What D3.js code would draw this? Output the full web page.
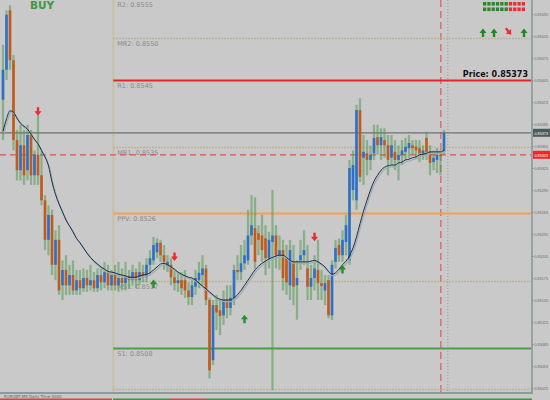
<!DOCTYPE html>
<html><head><meta charset="utf-8">
<script src="https://cdn.jsdelivr.net/npm/d3@7"></script>
<style>body{margin:0;background:#c9c9c9;}svg{display:block}</style>
</head><body>
<svg id="c" width="550" height="400"></svg>
<script>
const opens=[0.85418,0.85459,0.85540,0.85472,0.85363,0.85322,0.85356,0.85322,0.85370,0.85315,0.85343,0.85315,0.85281,0.85227,0.85261,0.85193,0.85227,0.85165,0.85186,0.85165,0.85179,0.85158,0.85172,0.85161,0.85175,0.85165,0.85172,0.85161,0.85179,0.85169,0.85183,0.85165,0.85179,0.85165,0.85175,0.85168,0.85178,0.85172,0.85183,0.85172,0.85183,0.85176,0.85193,0.85199,0.85210,0.85223,0.85206,0.85191,0.85193,0.85176,0.85168,0.85172,0.85172,0.85158,0.85149,0.85163,0.85172,0.85179,0.85188,0.85145,0.85063,0.85138,0.85131,0.85124,0.85145,0.85134,0.85148,0.85186,0.85183,0.85195,0.85199,0.85233,0.85243,0.85236,0.85233,0.85229,0.85202,0.85224,0.85233,0.85206,0.85213,0.85202,0.85165,0.85197,0.85165,0.85199,0.85206,0.85188,0.85163,0.85175,0.85186,0.85168,0.85158,0.85172,0.85124,0.85197,0.85220,0.85206,0.85224,0.85199,0.85295,0.85281,0.85404,0.85339,0.85345,0.85336,0.85345,0.85367,0.85356,0.85363,0.85356,0.85339,0.85347,0.85336,0.85343,0.85347,0.85352,0.85356,0.85354,0.85352,0.85345,0.85366,0.85347,0.85333,0.85336,0.85343,0.85347];
const highs=[0.85493,0.85540,0.85547,0.85479,0.85377,0.85384,0.85377,0.85384,0.85377,0.85349,0.85397,0.85349,0.85288,0.85274,0.85268,0.85240,0.85247,0.85199,0.85206,0.85193,0.85199,0.85186,0.85186,0.85188,0.85186,0.85193,0.85183,0.85188,0.85188,0.85197,0.85193,0.85186,0.85193,0.85197,0.85188,0.85197,0.85186,0.85193,0.85188,0.85197,0.85193,0.85202,0.85213,0.85231,0.85229,0.85227,0.85220,0.85206,0.85202,0.85186,0.85183,0.85183,0.85186,0.85169,0.85172,0.85186,0.85197,0.85206,0.85193,0.85148,0.85145,0.85152,0.85145,0.85158,0.85165,0.85165,0.85193,0.85206,0.85220,0.85227,0.85268,0.85288,0.85285,0.85247,0.85261,0.85247,0.85238,0.85295,0.85247,0.85233,0.85227,0.85220,0.85227,0.85220,0.85199,0.85227,0.85240,0.85220,0.85193,0.85206,0.85227,0.85186,0.85179,0.85179,0.85199,0.85227,0.85229,0.85240,0.85261,0.85336,0.85349,0.85411,0.85420,0.85370,0.85363,0.85356,0.85384,0.85384,0.85379,0.85379,0.85370,0.85370,0.85363,0.85356,0.85363,0.85366,0.85370,0.85363,0.85363,0.85363,0.85356,0.85374,0.85356,0.85349,0.85352,0.85349,0.85377];
const lows=[0.85363,0.85445,0.85459,0.85349,0.85308,0.85308,0.85302,0.85308,0.85302,0.85302,0.85302,0.85274,0.85213,0.85206,0.85179,0.85172,0.85152,0.85145,0.85152,0.85152,0.85152,0.85152,0.85152,0.85156,0.85156,0.85158,0.85156,0.85156,0.85158,0.85161,0.85158,0.85158,0.85158,0.85156,0.85158,0.85158,0.85161,0.85165,0.85161,0.85165,0.85169,0.85169,0.85179,0.85193,0.85202,0.85197,0.85186,0.85183,0.85165,0.85158,0.85156,0.85152,0.85148,0.85138,0.85138,0.85152,0.85161,0.85165,0.85138,0.85038,0.85056,0.85104,0.85097,0.85111,0.85120,0.85124,0.85138,0.85172,0.85172,0.85186,0.85193,0.85220,0.85188,0.85206,0.85197,0.85179,0.85188,0.85022,0.85188,0.85186,0.85158,0.85152,0.85145,0.85138,0.85118,0.85186,0.85193,0.85145,0.85145,0.85158,0.85145,0.85145,0.85138,0.85120,0.85118,0.85188,0.85197,0.85197,0.85206,0.85193,0.85281,0.85268,0.85306,0.85302,0.85315,0.85322,0.85336,0.85343,0.85336,0.85339,0.85315,0.85329,0.85322,0.85308,0.85329,0.85336,0.85339,0.85343,0.85339,0.85333,0.85336,0.85336,0.85315,0.85322,0.85318,0.85315,0.85343];
const closes=[0.85459,0.85534,0.85472,0.85363,0.85322,0.85356,0.85315,0.85370,0.85315,0.85343,0.85315,0.85281,0.85227,0.85261,0.85193,0.85227,0.85158,0.85186,0.85165,0.85179,0.85158,0.85172,0.85161,0.85175,0.85165,0.85172,0.85161,0.85179,0.85169,0.85183,0.85165,0.85179,0.85165,0.85175,0.85168,0.85178,0.85172,0.85183,0.85172,0.85183,0.85176,0.85193,0.85202,0.85220,0.85223,0.85206,0.85197,0.85197,0.85176,0.85168,0.85172,0.85161,0.85158,0.85149,0.85165,0.85175,0.85182,0.85188,0.85145,0.85049,0.85138,0.85128,0.85123,0.85145,0.85134,0.85148,0.85186,0.85183,0.85195,0.85206,0.85233,0.85247,0.85197,0.85227,0.85213,0.85202,0.85227,0.85233,0.85206,0.85213,0.85175,0.85169,0.85213,0.85163,0.85175,0.85206,0.85213,0.85163,0.85175,0.85188,0.85168,0.85164,0.85168,0.85124,0.85193,0.85216,0.85206,0.85227,0.85247,0.85325,0.85329,0.85404,0.85313,0.85347,0.85336,0.85343,0.85366,0.85356,0.85367,0.85356,0.85336,0.85356,0.85336,0.85343,0.85349,0.85354,0.85359,0.85352,0.85349,0.85345,0.85349,0.85347,0.85332,0.85339,0.85343,0.85341,0.85373];
const maValues=[0.85375,0.85392,0.85403,0.85401,0.85393,0.85386,0.85382,0.85378,0.85371,0.85364,0.85358,0.85349,0.85340,0.85328,0.85306,0.85289,0.85276,0.85265,0.85254,0.85246,0.85238,0.85229,0.85223,0.85216,0.85209,0.85203,0.85198,0.85194,0.85190,0.85187,0.85184,0.85183,0.85182,0.85180,0.85179,0.85178,0.85176,0.85176,0.85176,0.85178,0.85179,0.85180,0.85182,0.85186,0.85190,0.85194,0.85195,0.85193,0.85190,0.85187,0.85183,0.85180,0.85178,0.85176,0.85175,0.85172,0.85168,0.85164,0.85160,0.85156,0.85152,0.85148,0.85146,0.85145,0.85145,0.85145,0.85148,0.85152,0.85158,0.85165,0.85172,0.85179,0.85186,0.85191,0.85195,0.85198,0.85201,0.85203,0.85205,0.85206,0.85206,0.85203,0.85199,0.85197,0.85197,0.85197,0.85197,0.85197,0.85198,0.85199,0.85197,0.85194,0.85190,0.85184,0.85180,0.85182,0.85187,0.85193,0.85198,0.85205,0.85216,0.85231,0.85249,0.85266,0.85281,0.85295,0.85307,0.85315,0.85322,0.85326,0.85328,0.85329,0.85329,0.85332,0.85333,0.85336,0.85337,0.85339,0.85340,0.85343,0.85344,0.85345,0.85347,0.85347,0.85347,0.85347,0.85350];
const yTickValues=[0.85535,0.85505,0.85475,0.85445,0.85415,0.85385,0.85355,0.85325,0.85295,0.85265,0.85235,0.85205,0.85175,0.85145,0.85115,0.85085,0.85055,0.85025];
const pivotNames=["R2","MR2","R1","MR1","PPV","MS1","S1","MS2"];
const pivotValues=[0.85558,0.85502,0.85445,0.85354,0.85264,0.85171,0.85079,0.85023];
const pivotLabels=["0.8555","0.8550","0.8545","0.8535","0.8526","0.8517","0.8508","0.8502"];
const sellSignalIndex=[10,49,89];
const sellSignalPrice=[0.85401,0.85203,0.85230];
const buySignalIndex=[43,69,97];
const buySignalPrice=[0.85168,0.85120,0.85188];
const currentPrice=0.85373;
const bidPrice=0.85343;
const dayStartIndex=31.5;
const signalRow1=[1,1,1,1,1,1,0,0,0,0];
const signalRow2=[1,1,1,1,1,1,0,0,0,0];
const trendArrows=["up","up","down","up"];

const W=550,H=400,plotR=532,plotB=392;
const svg=d3.select("#c");
svg.append("rect").attr("width",W).attr("height",H).attr("fill","#c9c9c9");
const x=d3.scaleLinear().domain([0,126]).range([3,444]);
const y=d3.scaleLinear().domain([0.850195,0.855541]).range([plotB,0]);
const defs=svg.append("defs");
defs.append("clipPath").attr("id","pc").append("rect").attr("width",plotR).attr("height",plotB);
const g=svg.append("g").attr("clip-path","url(#pc)");

const xd=x(dayStartIndex);
g.append("line").attr("x1",xd).attr("x2",xd).attr("y1",0).attr("y2",plotB).attr("stroke","#c4c2a2").attr("stroke-width",2);
g.append("line").attr("x1",x(125.1)).attr("x2",x(125.1)).attr("y1",0).attr("y2",plotB).attr("stroke","#e05a5a").attr("stroke-width",1.2).attr("stroke-dasharray","7,4");
g.append("line").attr("x1",x(127.1)).attr("x2",x(127.1)).attr("y1",0).attr("y2",plotB).attr("stroke","#999").attr("stroke-width",1).attr("stroke-dasharray","1,2");

const pivStyle={R2:{c:"#c9c9c9",w:1,d:null},MR2:{c:"#b3b186",w:1.5,d:"1.5,1.5"},R1:{c:"#e4262a",w:2,d:null},MR1:{c:"#b3b186",w:1.5,d:"1.5,1.5"},PPV:{c:"#f2a24c",w:2,d:null},MS1:{c:"#b3b186",w:1.5,d:"1.5,1.5"},S1:{c:"#4f9c4a",w:2,d:null},MS2:{c:"#b3b186",w:1.5,d:"1.5,1.5"}};
pivotNames.forEach((n,i)=>{
  const py=Math.round(y(pivotValues[i]))+0.5;
  const s=pivStyle[n];
  const l=g.append("line").attr("x1",xd).attr("x2",plotR).attr("y1",py).attr("y2",py).attr("stroke",s.c).attr("stroke-width",s.w);
  if(s.d) l.attr("stroke-dasharray",s.d);
  g.append("text").attr("x",xd+4).attr("y",Math.max(py+7,6.5)).attr("font-family","DejaVu Sans").attr("font-size",6.5).attr("fill","#8a8a8a").text(n+": "+pivotLabels[i]);
});

g.append("line").attr("x1",0).attr("x2",plotR).attr("y1",y(currentPrice)).attr("y2",y(currentPrice)).attr("stroke","#6e6e6e").attr("stroke-width",1.3);
g.append("line").attr("x1",0).attr("x2",plotR).attr("y1",y(bidPrice)).attr("y2",y(bidPrice)).attr("stroke","#e05050").attr("stroke-width",1.2).attr("stroke-dasharray","6,4");

const idx=d3.range(opens.length);
g.append("g").selectAll("line").data(idx).join("line")
  .attr("x1",i=>x(i)).attr("x2",i=>x(i)).attr("y1",i=>y(highs[i])).attr("y2",i=>y(lows[i]))
  .attr("stroke","rgba(72,150,72,0.5)").attr("stroke-width",2.2);
g.append("g").selectAll("rect").data(idx).join("rect")
  .attr("x",i=>x(i)-1.3).attr("width",2.6)
  .attr("y",i=>Math.min(y(opens[i]),y(closes[i])))
  .attr("height",i=>Math.max(1,Math.abs(y(opens[i])-y(closes[i]))))
  .attr("fill",i=>closes[i]>=opens[i]?"#2e6fc8":"#c25a1c");

const line=d3.line().x((d,i)=>x(i)).y(d=>y(d)).curve(d3.curveMonotoneX);
g.append("path").datum(maValues).attr("d",line).attr("fill","none").attr("stroke","#9cafb3").attr("stroke-width",1.3).attr("transform","translate(1,1.6)");
g.append("path").datum(maValues).attr("d",line).attr("fill","none").attr("stroke","#1f2e48").attr("stroke-width",1);

const downArrow="M-1.2,-5 L1.2,-5 L1.2,-1 L3.5,-1 L0,3.5 L-3.5,-1 L-1.2,-1 Z";
const upArrow="M-1.2,5 L1.2,5 L1.2,1 L3.5,1 L0,-3.5 L-3.5,1 L-1.2,1 Z";
sellSignalIndex.forEach((d,i)=>g.append("path").attr("d",downArrow).attr("fill","#ea2b2b").attr("transform",`translate(${x(d)},${y(sellSignalPrice[i])})`));
buySignalIndex.forEach((d,i)=>g.append("path").attr("d",upArrow).attr("fill","#23922a").attr("transform",`translate(${x(d)},${y(buySignalPrice[i])})`));

svg.append("text").attr("x",30).attr("y",8.5).attr("font-family","DejaVu Sans").attr("font-weight","bold").attr("font-size",10.5).attr("fill","#3c9a3c").text("BUY");

[signalRow1,signalRow2].forEach((row,r)=>row.forEach((v,k)=>{
  svg.append("rect").attr("x",483+k*4.3).attr("y",2+r*5.5).attr("width",3.3).attr("height",3.6).attr("fill",v?"#2a8a2a":"#e83030");
}));
trendArrows.forEach((d,k)=>{
  const axp=[483,494,509,524][k];
  if(d==="up") svg.append("path").attr("d",upArrow).attr("fill","#1f8a22").attr("transform",`translate(${axp},32)`);
  else svg.append("path").attr("d",downArrow).attr("fill","#e83030").attr("transform",`translate(${axp},32) rotate(-40)`);
});

svg.append("text").attr("x",528).attr("y",77).attr("text-anchor","end").attr("font-family","DejaVu Sans").attr("font-weight","bold").attr("font-size",8).attr("fill","#111").text("Price: "+currentPrice.toFixed(5));

const ax=svg.append("g").attr("transform",`translate(${plotR},0)`).call(d3.axisRight(y).tickValues(yTickValues).tickSize(1.5).tickFormat(d3.format(".5f")));
ax.select(".domain").attr("stroke","#97a3a3").attr("stroke-width",2).attr("d",`M0,0V${plotB}`);
ax.selectAll(".tick line").attr("stroke","#888");
ax.selectAll(".tick text").attr("font-family","Liberation Sans").attr("font-size",4.2).attr("fill","#6a6a6a").attr("x",2.5)
  .attr("textLength",13.5).attr("lengthAdjust","spacingAndGlyphs");

[[currentPrice,"#4b5a5a"],[bidPrice,"#ea2a2a"]].forEach(([p,c])=>{
  const py=y(p);
  svg.append("rect").attr("x",533).attr("y",py-4).attr("width",17).attr("height",8).attr("fill",c);
  svg.append("text").attr("x",534.5).attr("y",py+1.8).attr("font-family","Liberation Sans").attr("font-size",4.2).attr("fill","#fff")
    .attr("textLength",13.5).attr("lengthAdjust","spacingAndGlyphs").text(p.toFixed(5));
});

svg.append("rect").attr("x",0).attr("y",plotB).attr("width",plotR+1).attr("height",2).attr("fill","#8c9a9a");
svg.append("text").attr("x",4).attr("y",398).attr("font-family","DejaVu Sans").attr("font-size",4).attr("fill","#666").text("EURGBP,M5  Daily  Time 0000");
const strip=[[0,112,"#e04040"],[113,170,"#3a9a3a"],[170,206,"#e04040"],[206,532,"#3a9a3a"]];
strip.forEach(s=>svg.append("rect").attr("x",s[0]).attr("y",398.5).attr("width",s[1]-s[0]).attr("height",1.5).attr("fill",s[2]));
</script>
</body></html>
